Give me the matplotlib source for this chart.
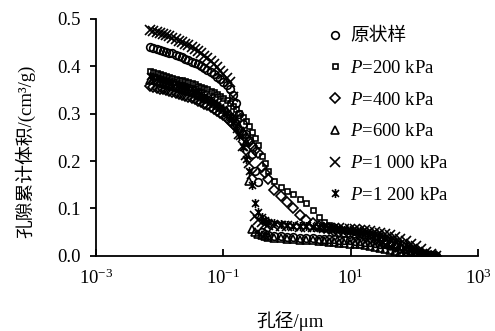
import matplotlib
matplotlib.use("Agg")
import matplotlib.pyplot as plt
from matplotlib.path import Path
from matplotlib.ticker import FormatStrFormatter, NullLocator

plt.rcParams['font.family'] = ['Liberation Serif', 'Noto Sans CJK SC']
plt.rcParams['mathtext.fontset'] = 'custom'
plt.rcParams['mathtext.rm'] = 'Liberation Serif'
plt.rcParams['mathtext.it'] = 'Liberation Serif:italic'
plt.rcParams['font.size'] = 13.5

# 孔径 (µm)
diametro = [0.00708, 0.00794, 0.00891, 0.0100, 0.0112, 0.0126, 0.0141, 0.0158,
            0.0178, 0.0200, 0.0224, 0.0251, 0.0282, 0.0316, 0.0355, 0.0398,
            0.0447, 0.0501, 0.0562, 0.0631, 0.0708, 0.0794, 0.0891, 0.100,
            0.112, 0.126, 0.141, 0.158, 0.178, 0.200, 0.224, 0.251, 0.282,
            0.316, 0.355, 0.398, 0.447, 0.501, 0.631, 0.794, 1.00, 1.26, 1.58,
            2.00, 2.51, 3.16, 3.80, 4.57, 5.50, 6.61, 7.94, 9.55, 11.5, 13.8,
            16.6, 20.0, 24.0, 28.8, 34.7, 41.7, 50.1, 60.3, 72.4, 87.1, 105,
            126, 151, 182, 219]

# 孔隙累计体积 (cm3/g)
v_original = [0.441, 0.439, 0.437, 0.435, 0.433, 0.431, 0.429, 0.427, 0.424, 0.422,
              0.419, 0.416, 0.413, 0.410, 0.407, 0.404, 0.400, 0.396, 0.392, 0.388,
              0.383, 0.378, 0.373, 0.367, 0.360, 0.352, 0.340, 0.322, 0.300, 0.278,
              0.258, 0.245, 0.215, 0.178, 0.155, 0.050, 0.046, 0.044, 0.042, 0.041,
              0.040, 0.039, 0.038, 0.038, 0.037, 0.036, 0.036, 0.035, 0.035, 0.034,
              0.033, 0.033, 0.032, 0.031, 0.030, 0.029, 0.028, 0.026, 0.024, 0.022,
              0.020, 0.017, 0.014, 0.011, 0.008, 0.005, 0.003, 0.001, 0.000]
v_200 = [0.390, 0.388, 0.386, 0.384, 0.382, 0.380, 0.378, 0.376, 0.374, 0.372,
         0.370, 0.368, 0.366, 0.364, 0.362, 0.359, 0.357, 0.354, 0.351, 0.348,
         0.345, 0.341, 0.337, 0.333, 0.328, 0.323, 0.317, 0.310, 0.302, 0.293,
         0.284, 0.275, 0.262, 0.248, 0.234, 0.211, 0.195, 0.178, 0.158, 0.146,
         0.137, 0.130, 0.121, 0.111, 0.096, 0.082, 0.072, 0.065, 0.060, 0.057,
         0.054, 0.052, 0.050, 0.048, 0.046, 0.043, 0.040, 0.036, 0.032, 0.028,
         0.023, 0.018, 0.013, 0.009, 0.006, 0.003, 0.001, 0.000, 0.000]
v_400 = [0.358, 0.356, 0.355, 0.353, 0.351, 0.349, 0.347, 0.345, 0.343, 0.341,
         0.339, 0.337, 0.335, 0.332, 0.330, 0.327, 0.324, 0.321, 0.318, 0.314,
         0.310, 0.306, 0.302, 0.297, 0.291, 0.285, 0.279, 0.272, 0.265, 0.257,
         0.249, 0.241, 0.232, 0.224, 0.218, 0.188, 0.175, 0.163, 0.138, 0.126,
         0.114, 0.102, 0.086, 0.076, 0.069, 0.063, 0.059, 0.056, 0.053, 0.051,
         0.049, 0.047, 0.045, 0.043, 0.041, 0.038, 0.035, 0.031, 0.027, 0.023,
         0.019, 0.015, 0.011, 0.008, 0.005, 0.003, 0.001, 0.000, 0.000]
v_600 = [0.372, 0.370, 0.368, 0.366, 0.364, 0.362, 0.360, 0.358, 0.356, 0.354,
         0.352, 0.350, 0.348, 0.345, 0.343, 0.340, 0.337, 0.334, 0.331, 0.327,
         0.323, 0.319, 0.315, 0.310, 0.305, 0.299, 0.292, 0.284, 0.275, 0.263,
         0.240, 0.157, 0.056, 0.051, 0.047, 0.044, 0.042, 0.040, 0.038, 0.037,
         0.036, 0.035, 0.034, 0.034, 0.033, 0.032, 0.031, 0.030, 0.029, 0.028,
         0.027, 0.026, 0.025, 0.024, 0.022, 0.021, 0.019, 0.017, 0.015, 0.013,
         0.011, 0.009, 0.007, 0.005, 0.003, 0.002, 0.001, 0.000, 0.000]
v_1000 = [0.476, 0.474, 0.472, 0.470, 0.468, 0.465, 0.463, 0.460, 0.457, 0.454,
          0.451, 0.447, 0.444, 0.440, 0.436, 0.432, 0.427, 0.422, 0.417, 0.411,
          0.405, 0.398, 0.391, 0.384, 0.376, 0.366, 0.335, 0.290, 0.258, 0.232,
          0.212, 0.195, 0.172, 0.085, 0.076, 0.071, 0.068, 0.066, 0.064, 0.063,
          0.062, 0.062, 0.061, 0.061, 0.060, 0.060, 0.059, 0.059, 0.058, 0.058,
          0.057, 0.057, 0.056, 0.055, 0.054, 0.053, 0.051, 0.049, 0.046, 0.043,
          0.039, 0.035, 0.031, 0.026, 0.020, 0.014, 0.008, 0.003, 0.000]
v_1200 = [0.380, 0.378, 0.376, 0.374, 0.372, 0.370, 0.368, 0.366, 0.364, 0.361,
          0.359, 0.356, 0.354, 0.351, 0.348, 0.345, 0.342, 0.338, 0.334, 0.330,
          0.325, 0.320, 0.315, 0.309, 0.302, 0.293, 0.282, 0.268, 0.253, 0.230,
          0.205, 0.180, 0.150, 0.112, 0.092, 0.082, 0.076, 0.072, 0.069, 0.067,
          0.065, 0.064, 0.063, 0.062, 0.061, 0.060, 0.059, 0.058, 0.057, 0.056,
          0.055, 0.054, 0.053, 0.052, 0.050, 0.048, 0.046, 0.043, 0.040, 0.036,
          0.032, 0.027, 0.022, 0.017, 0.012, 0.007, 0.003, 0.001, 0.000]

etiquetas = ['原状样', '$P$=200 kPa', '$P$=400 kPa', '$P$=600 kPa',
             '$P$=1 000 kPa', '$P$=1 200 kPa']
series = [v_original, v_200, v_400, v_600, v_1000, v_1200]

# marcador tipo asterisco (× con barra vertical)
asterisco = Path([(-1, -1), (1, 1), (-1, 1), (1, -1), (0, -1.3), (0, 1.3)],
                 [Path.MOVETO, Path.LINETO] * 3)
marcadores = ['o', 's', 'D', '^', 'x', asterisco]
tamanos = [5.5, 3.6, 4.6, 5.2, 6.5, 6.5]

fig, ax = plt.subplots(figsize=(4.95, 3.31), dpi=100)
fig.subplots_adjust(left=0.194, right=0.966, bottom=0.227, top=0.943)

for v, m, s, lab in zip(series, marcadores, tamanos, etiquetas):
    ax.plot(diametro, v, linestyle='none', marker=m, markersize=s,
            markerfacecolor='none', markeredgecolor='black',
            markeredgewidth=1.2, color='black', label=lab)

ax.set_xscale('log')
ax.set_xlim(1e-3, 1e3)
ax.set_ylim(0, 0.5)
ax.set_xticks([1e-3, 1e-1, 1e1, 1e3])
ax.xaxis.set_minor_locator(NullLocator())
ax.yaxis.set_major_formatter(FormatStrFormatter('%.1f'))

for lado in ['top', 'right']:
    ax.spines[lado].set_visible(False)
for lado in ['left', 'bottom']:
    ax.spines[lado].set_linewidth(1.3)
ax.tick_params(axis='x', direction='in', length=5, width=1.3, pad=9)
ax.tick_params(axis='y', direction='out', length=4, width=1.3, pad=7)

ax.set_xlabel('孔径/μm')
ax.set_ylabel('孔隙累计体积/(cm³/g)')
ax.xaxis.set_label_coords(0.508, -0.232)
ax.yaxis.set_label_coords(-0.16, 0.443)

ax.legend(loc='upper left', bbox_to_anchor=(327.5 / 495, 1 - 28 / 331),
          bbox_transform=fig.transFigure,
          frameon=False, borderpad=0, handlelength=0.8, handletextpad=0.4,
          labelspacing=0.78, borderaxespad=0)

plt.savefig('out.png', dpi=100)
